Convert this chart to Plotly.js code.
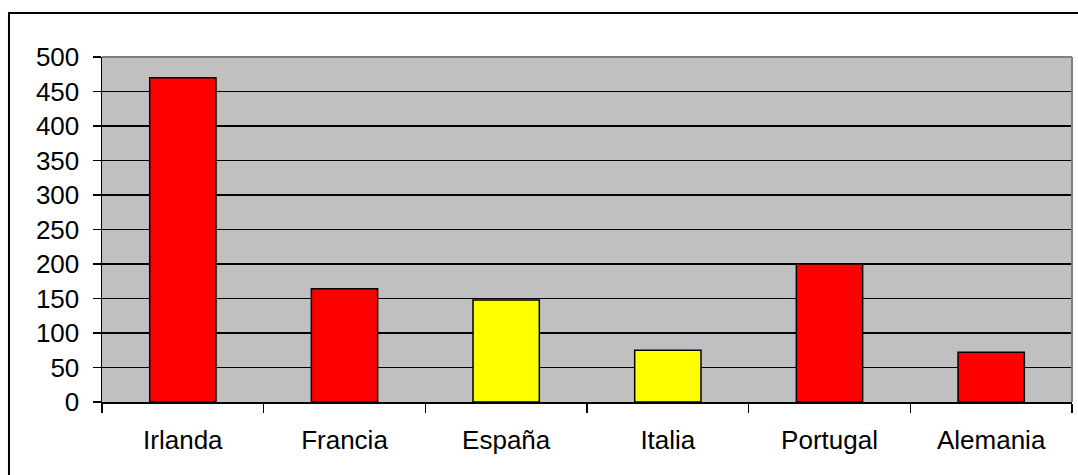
<!DOCTYPE html>
<html>
<head>
<meta charset="utf-8">
<script src="https://cdn.plot.ly/plotly-3.0.1.min.js"></script>
<style>
  html, body { margin: 0; padding: 0; background: #ffffff; }
  #chart { width: 1078px; height: 475px; }
</style>
</head>
<body>
<div id="chart"></div>
<script>
// Countries and their values
const countries = ['Irlanda', 'Francia', 'España', 'Italia', 'Portugal', 'Alemania'];
const values = [470, 164, 148, 75, 200, 72];
const barColors = ['#FF0000', '#FF0000', '#FFFF00', '#FFFF00', '#FF0000', '#FF0000'];
const yTicks = [0, 50, 100, 150, 200, 250, 300, 350, 400, 450, 500];

const fontFamily = 'Arial, "Liberation Sans", sans-serif';

const trace = {
  type: 'bar',
  x: countries,
  y: values,
  marker: {
    color: barColors,
    line: { color: '#000000', width: 1.5 }
  },
  hoverinfo: 'x+y'
};

const layout = {
  width: 1078,
  height: 475,
  margin: { l: 102, r: 6, t: 57, b: 73, pad: 0 },
  paper_bgcolor: '#ffffff',
  plot_bgcolor: '#C0C0C0',
  showlegend: false,
  bargap: 0.59,
  font: { family: fontFamily, size: 26, color: '#000000' },
  xaxis: {
    type: 'category',
    tickson: 'boundaries',
    ticks: 'outside',
    ticklen: 9,
    tickwidth: 1.5,
    tickcolor: '#000000',
    showline: true,
    linecolor: '#000000',
    linewidth: 1.5,
    showgrid: false,
    zeroline: false,
    ticklabelstandoff: 14,
    tickfont: { family: fontFamily, size: 26, color: '#000000' }
  },
  yaxis: {
    range: [0, 500],
    tickvals: yTicks,
    ticktext: yTicks.map(String),
    ticks: 'outside',
    ticklen: 8,
    tickwidth: 1.5,
    tickcolor: '#000000',
    showline: true,
    linecolor: '#000000',
    linewidth: 1.5,
    showgrid: true,
    gridcolor: '#000000',
    gridwidth: 1.5,
    zeroline: false,
    ticklabelstandoff: 8,
    tickfont: { family: fontFamily, size: 26, color: '#000000' }
  },
  shapes: [
    // grey frame on the top and right edges of the plot area
    { type: 'line', xref: 'paper', yref: 'paper', x0: 0, x1: 1, y0: 1, y1: 1,
      line: { color: '#808080', width: 2 }, layer: 'above' },
    { type: 'line', xref: 'paper', yref: 'paper', x0: 1, x1: 1, y0: 0, y1: 1,
      line: { color: '#808080', width: 2 }, layer: 'above' },
    // outer chart border
    { type: 'rect', xref: 'paper', yref: 'paper',
      x0: -0.0959, x1: 1.1, y0: -0.4, y1: 1.1275,
      line: { color: '#000000', width: 2 }, fillcolor: 'rgba(0,0,0,0)', layer: 'above' }
  ]
};

Plotly.newPlot('chart', [trace], layout, { displayModeBar: false, staticPlot: true });
</script>
</body>
</html>
